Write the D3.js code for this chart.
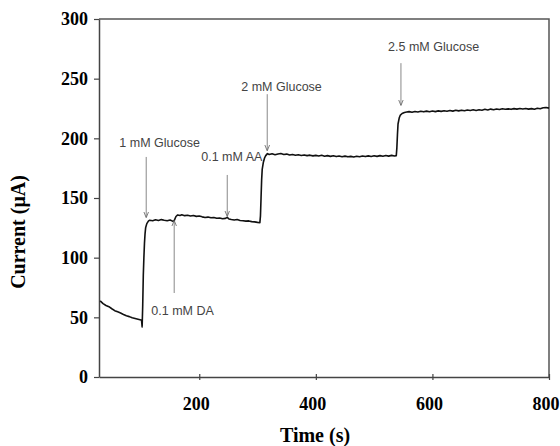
<!DOCTYPE html>
<html>
<head>
<meta charset="utf-8">
<script src="https://cdn.jsdelivr.net/npm/d3@7"></script>
<style>
  body { margin: 0; background: #fff; }
  svg { display: block; }
</style>
</head>
<body>
<div id="chart"></div>
<script>
// Amperometric trace
var time = [30,35,40,45,50,55,60,65,70,75,80,85,90,95,100,101,102,103,104,105,106,107,108,110,113,115,
  120,125,130,135,140,145,150,155,157,160,163,167,170,175,180,185,190,195,200,205,210,215,220,225,230,235,240,245,248,251,255,260,265,270,275,280,285,290,295,300,304,
  305,306,307,308,310,312,314,317,320,
  325,330,335,340,345,350,355,360,365,370,375,380,385,390,395,400,405,410,415,420,425,430,435,440,445,450,455,460,465,470,475,480,485,490,495,500,505,510,515,520,525,530,535,538,
  539,540,541,543,545,548,552,556,
  560,565,570,575,580,585,590,595,600,605,610,615,620,625,630,635,640,645,650,655,660,665,670,675,680,685,690,695,700,705,710,715,720,725,730,735,740,745,750,755,760,765,770,775,780,785,790,795,800];
var current = [63.8,61.5,59.9,58.9,57.2,55.6,54.6,53.6,52.4,51.3,50.6,49.6,49.0,48.4,47.8,47.5,42.0,60,85,100,112,120,125,128.5,130.8,131.3,
  131.0,131.8,131.2,131.9,131.4,131.0,131.6,130.4,131.0,134.5,135.8,135.4,136.0,135.2,135.6,134.9,135.3,134.6,134.9,134.2,133.6,134.0,133.4,133.7,133.0,133.3,132.6,132.9,133.8,132.4,132.0,131.6,132.0,131.2,131.0,130.6,130.8,130.2,130.0,129.6,129.4,
  135,150,165,174,180,183.5,185.5,187.2,186.4,
  187.0,186.3,186.9,187.3,186.5,186.8,186.0,186.4,185.8,186.2,185.6,186.1,185.5,185.9,185.3,185.7,185.2,185.8,185.0,185.5,184.9,185.4,184.7,185.2,184.6,185.1,184.5,184.9,184.4,185.0,184.6,185.2,184.7,185.3,184.8,185.4,184.9,185.5,185.0,185.6,185.1,185.7,185.2,185.5,
  192,203,212,217,219.5,220.8,221.6,222.0,
  222.4,221.9,222.5,222.1,222.7,222.2,222.8,222.3,222.9,222.4,223.0,222.6,223.1,222.7,223.3,222.8,223.5,223.0,223.6,223.1,223.7,223.3,223.9,223.4,224.0,223.6,224.3,223.8,224.5,224.0,224.6,224.2,224.8,224.4,224.7,224.3,224.9,224.5,225.0,224.6,225.0,224.5,224.9,224.4,225.2,224.8,225.6,225.9,225.3];

var xTicks = [200, 400, 600, 800];
var yTicks = [0, 50, 100, 150, 200, 250, 300];

// Additions marked on the trace
var noteLabels = ['1 mM Glucose', '0.1 mM DA', '0.1 mM AA', '2 mM Glucose', '2.5 mM Glucose'];
var noteTime = [109, 157, 248, 316.6, 546];
var noteFrom = [184.4, 70.4, 169.3, 237, 263];
var noteTo = [134, 130.7, 135, 190, 228];
var noteTextTime = [62.9, 117.7, 203.4, 272, 524];
var noteTextCurrent = [196, 56, 184.4, 243, 276.5];

var svgWidth = 560, svgHeight = 446;
var margin = { top: 19, right: 11, bottom: 69, left: 99 };
var width = svgWidth - margin.left - margin.right;
var height = svgHeight - margin.top - margin.bottom;

var svg = d3.select('#chart').append('svg').attr('width', svgWidth).attr('height', svgHeight);
var chartGroup = svg.append('g').attr('transform', `translate(${margin.left}, ${margin.top})`);

var xScale = d3.scaleLinear().domain([28, 800]).range([0, width]);
var yScale = d3.scaleLinear().domain([0, 300]).range([height, 0]);

svg.append('defs').append('marker')
  .attr('id', 'arrow')
  .attr('viewBox', '0 0 10 10')
  .attr('refX', 9).attr('refY', 5)
  .attr('markerWidth', 6).attr('markerHeight', 6)
  .attr('orient', 'auto')
  .append('path')
  .attr('d', 'M0,1 L10,5 L0,9')
  .attr('fill', 'none')
  .attr('stroke', '#666')
  .attr('stroke-width', 1.4);

// frame on top and right
chartGroup.append('path')
  .attr('d', `M0,0 H${width} V${height}`)
  .attr('fill', 'none')
  .attr('stroke', '#555')
  .attr('stroke-width', 1.5);

var xAxis = chartGroup.append('g')
  .attr('transform', `translate(0, ${height})`)
  .call(d3.axisBottom(xScale).tickValues(xTicks).tickSize(-3).tickPadding(20).tickSizeOuter(0));

var yAxis = chartGroup.append('g')
  .call(d3.axisLeft(yScale).tickValues(yTicks).tickSize(5).tickPadding(6).tickSizeOuter(0));

[xAxis, yAxis].forEach(function(ax) {
  ax.select('.domain').attr('stroke', '#444').attr('stroke-width', 1.5);
  ax.selectAll('.tick line').attr('stroke', '#444').attr('stroke-width', 1.2);
  ax.selectAll('.tick text')
    .attr('fill', '#000')
    .style('font-family', '"Liberation Serif", "Times New Roman", serif')
    .style('font-weight', 'bold')
    .style('font-size', '18px');
});
xAxis.selectAll('.tick line').attr('y2', 3).attr('y1', -3);
xAxis.selectAll('.tick text').attr('dx', -3.5);

var line = d3.line()
  .x((d, i) => xScale(time[i]))
  .y((d) => yScale(d));

chartGroup.append('path')
  .datum(current)
  .attr('d', line)
  .attr('fill', 'none')
  .attr('stroke', '#111')
  .attr('stroke-width', 1.6)
  .attr('stroke-linejoin', 'round');

// arrows and labels
noteLabels.forEach(function(label, i) {
  chartGroup.append('line')
    .attr('x1', xScale(noteTime[i]))
    .attr('x2', xScale(noteTime[i]))
    .attr('y1', yScale(noteFrom[i]))
    .attr('y2', yScale(noteTo[i]))
    .attr('stroke', '#888')
    .attr('stroke-width', 1)
    .attr('marker-end', 'url(#arrow)');

  chartGroup.append('text')
    .attr('x', xScale(noteTextTime[i]))
    .attr('y', yScale(noteTextCurrent[i]))
    .attr('dy', '0.35em')
    .attr('fill', '#444')
    .style('font-family', '"Liberation Sans", Arial, sans-serif')
    .style('font-size', '12.5px')
    .text(label);
});

// axis titles
svg.append('text')
  .attr('x', 315)
  .attr('y', 442)
  .attr('text-anchor', 'middle')
  .style('font-family', '"Liberation Serif", "Times New Roman", serif')
  .style('font-weight', 'bold')
  .style('font-size', '20px')
  .text('Time (s)');

svg.append('text')
  .attr('transform', 'translate(25, 232) rotate(-90)')
  .attr('text-anchor', 'middle')
  .style('font-family', '"Liberation Serif", "Times New Roman", serif')
  .style('font-weight', 'bold')
  .style('font-size', '20px')
  .text('Current (μA)');
</script>
</body>
</html>
